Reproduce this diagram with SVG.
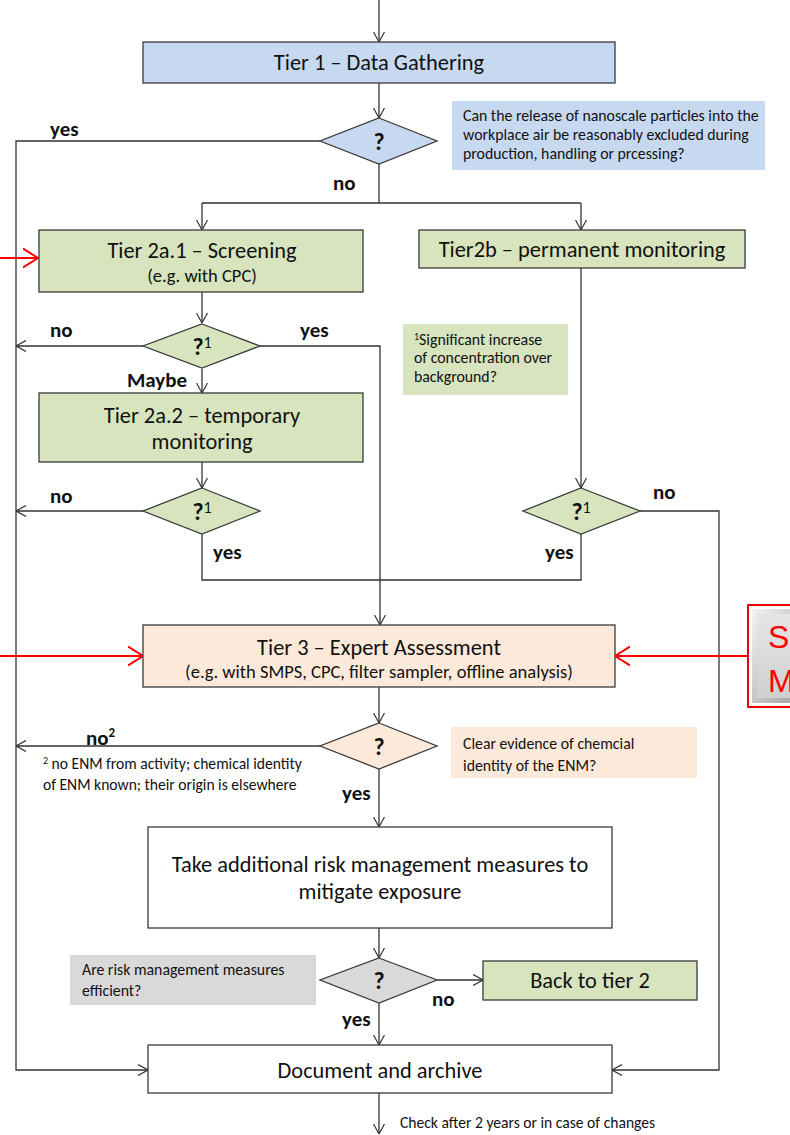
<svg xmlns="http://www.w3.org/2000/svg" width="790" height="1135" viewBox="0 0 790 1135">
<style>
text{font-family:Carlito,Lato,"Open Sans",sans-serif;fill:#111}
.t{font-size:22.4px;text-anchor:middle}
.s{font-size:18.5px;text-anchor:middle}
.n{font-size:15.8px}
.f{font-size:15.6px}
.b{font-size:21px;font-weight:bold}
.q{font-size:24px;font-weight:bold;text-anchor:middle}
.sup{font-size:16px;font-weight:normal}
.box{stroke:#3a3a3a;stroke-width:1.3}
.c{fill:none;stroke:#333;stroke-width:1.3}
.r{fill:none;stroke:#f00;stroke-width:2}
.blue{fill:#c6d9f1}.green{fill:#d7e4bd}.peach{fill:#fde9d9}.gray{fill:#d9d9d9}.white{fill:#fff}
</style>
<defs>
<marker id="a" viewBox="0 0 10 12" refX="10" refY="6" markerWidth="10" markerHeight="12" orient="auto" markerUnits="userSpaceOnUse"><path d="M0,0.5 L10,6 L0,11.5" fill="none" stroke="#333" stroke-width="1.2"/></marker>
<marker id="ar" viewBox="0 0 16 20" refX="15" refY="10" markerWidth="16" markerHeight="20" orient="auto" markerUnits="userSpaceOnUse"><path d="M0,0.5 L15,10 L0,19.5" fill="none" stroke="#f00" stroke-width="2"/></marker>
<linearGradient id="bev" x1="0" y1="0" x2="1" y2="1"><stop offset="0" stop-color="#f4f4f4"/><stop offset="1" stop-color="#9a9a9a"/></linearGradient>
<linearGradient id="face" x1="0" y1="0" x2="0" y2="1"><stop offset="0" stop-color="#e6e6e6"/><stop offset="1" stop-color="#cfcfcf"/></linearGradient>
</defs>

<g id="connectors">
<path class="c" d="M379,0 V42" marker-end="url(#a)"/>
<path class="c" d="M379,83 V118" marker-end="url(#a)"/>
<path class="c" d="M320,141 H16 V1070 H148" marker-end="url(#a)"/>
<path class="c" d="M379,164 V203 M202,203 H581"/>
<path class="c" d="M202,203 V230" marker-end="url(#a)"/>
<path class="c" d="M581,203 V230" marker-end="url(#a)"/>
<path class="c" d="M202,292 V323" marker-end="url(#a)"/>
<path class="c" d="M143,346 H16" marker-end="url(#a)"/>
<path class="c" d="M260,346 H380 V625" marker-end="url(#a)"/>
<path class="c" d="M202,369 V393" marker-end="url(#a)"/>
<path class="c" d="M202,462 V488" marker-end="url(#a)"/>
<path class="c" d="M143,511 H16" marker-end="url(#a)"/>
<path class="c" d="M202,534 V580 H581 V534"/>
<path class="c" d="M581,268 V488" marker-end="url(#a)"/>
<path class="c" d="M640,511 H719 V1070 H612" marker-end="url(#a)"/>
<path class="c" d="M379,687 V723" marker-end="url(#a)"/>
<path class="c" d="M320,746 H16" marker-end="url(#a)"/>
<path class="c" d="M379,769 V827" marker-end="url(#a)"/>
<path class="c" d="M379,928 V958" marker-end="url(#a)"/>
<path class="c" d="M437,980 H483" marker-end="url(#a)"/>
<path class="c" d="M379,1003 V1045" marker-end="url(#a)"/>
<path class="c" d="M379,1093 V1134" marker-end="url(#a)"/>
<path class="r" d="M0,258 H38" marker-end="url(#ar)"/>
<path class="r" d="M0,656 H143" marker-end="url(#ar)"/>
<path class="r" d="M750,656 H615" marker-end="url(#ar)"/>
</g>

<g id="labels">
<text class="b" x="50" y="136">yes</text>
<text class="b" x="333" y="190">no</text>
<text class="b" x="50" y="337">no</text>
<text class="b" x="300" y="337">yes</text>
<text class="b" x="127" y="387">Maybe</text>
<text class="b" x="50" y="503">no</text>
<text class="b" x="213" y="559">yes</text>
<text class="b" x="653" y="499">no</text>
<text class="b" x="545" y="559">yes</text>
<text class="b" x="86" y="745">no<tspan font-size="13" dy="-8">2</tspan></text>
<text class="b" x="342" y="800">yes</text>
<text class="b" x="432" y="1006">no</text>
<text class="b" x="342" y="1026">yes</text>
<text class="f" x="400" y="1128">Check after 2 years or in case of changes</text>
</g>

<g id="tier1">
<rect class="box blue" x="143" y="42" width="472" height="41"/>
<text class="t" x="379" y="70">Tier 1 – Data Gathering</text>
</g>

<g id="q1">
<polygon class="box blue" points="379,118 437,141 379,164 320,141"/>
<text class="q" x="379" y="150">?</text>
</g>

<g id="note1">
<rect class="blue" x="452" y="101" width="313" height="69"/>
<text class="n" x="463" y="121">Can the  release of nanoscale particles into the</text>
<text class="n" x="463" y="140">workplace air be reasonably  excluded during</text>
<text class="n" x="463" y="159">production, handling or prcessing?</text>
</g>

<g id="tier2a1">
<rect class="box green" x="39" y="230" width="324" height="62"/>
<text class="t" x="202" y="258">Tier 2a.1 – Screening</text>
<text class="s" x="202" y="282">(e.g. with CPC)</text>
</g>

<g id="tier2b">
<rect class="box green" x="419" y="230" width="326" height="38"/>
<text class="t" x="582" y="257">Tier2b – permanent monitoring</text>
</g>

<g id="q2a1">
<polygon class="box green" points="202,324 260,346 202,368 143,346"/>
<text class="q" x="202" y="355">?<tspan class="sup" dy="-7">1</tspan></text>
</g>

<g id="note2">
<rect class="green" x="403" y="324" width="165" height="71"/>
<text class="n" x="414" y="345"><tspan font-size="10" dy="-5">1</tspan><tspan dy="5">Significant increase</tspan></text>
<text class="n" x="414" y="363">of concentration over</text>
<text class="n" x="414" y="382">background?</text>
</g>

<g id="tier2a2">
<rect class="box green" x="39" y="393" width="324" height="69"/>
<text class="t" x="202" y="423">Tier 2a.2 – temporary</text>
<text class="t" x="202" y="449">monitoring</text>
</g>

<g id="q2a2">
<polygon class="box green" points="202,488 260,511 202,534 143,511"/>
<text class="q" x="202" y="520">?<tspan class="sup" dy="-7">1</tspan></text>
</g>

<g id="q2b">
<polygon class="box green" points="581,488 640,511 581,534 523,511"/>
<text class="q" x="581" y="520">?<tspan class="sup" dy="-7">1</tspan></text>
</g>

<g id="tier3">
<rect class="box peach" x="143" y="625" width="472" height="62"/>
<text class="t" x="379" y="655">Tier 3 – Expert Assessment</text>
<text class="s" x="379" y="678">(e.g. with SMPS, CPC, filter sampler, offline analysis)</text>
</g>

<g id="smbox">
<rect x="748" y="605" width="60" height="102" fill="#fff" stroke="#e00" stroke-width="2"/>
<rect x="752" y="609" width="56" height="94" fill="url(#bev)"/>
<rect x="757" y="614" width="51" height="84" fill="url(#face)"/>
<text x="768" y="648" font-size="32" style="fill:#f00;font-family:'Liberation Sans',Arial,sans-serif">S</text>
<text x="768" y="692" font-size="32" style="fill:#f00;font-family:'Liberation Sans',Arial,sans-serif">M</text>
</g>

<g id="q3">
<polygon class="box peach" points="379,723 437,746 379,769 320,746"/>
<text class="q" x="379" y="755">?</text>
</g>

<g id="footnote2">
<text class="f" x="43" y="769"><tspan font-size="10" dy="-5">2</tspan><tspan dy="5"> no ENM from activity;  chemical identity</tspan></text>
<text class="f" x="43" y="790">of ENM  known;  their origin is elsewhere</text>
</g>

<g id="note3">
<rect class="peach" x="451" y="727" width="246" height="51"/>
<text class="n" x="463" y="749">Clear evidence of chemcial</text>
<text class="n" x="463" y="771">identity of the ENM?</text>
</g>

<g id="action">
<rect class="box white" x="148" y="827" width="464" height="101"/>
<text class="t" x="380" y="872">Take additional risk management measures to</text>
<text class="t" x="380" y="899">mitigate exposure</text>
</g>

<g id="q4">
<polygon class="box gray" points="379,958 437,980 379,1003 320,980"/>
<text class="q" x="379" y="989">?</text>
</g>

<g id="note4">
<rect class="gray" x="70" y="955" width="246" height="50"/>
<text class="n" x="82" y="975">Are risk management  measures</text>
<text class="n" x="82" y="996">efficient?</text>
</g>

<g id="back">
<rect class="box green" x="483" y="961" width="214" height="39"/>
<text class="t" x="590" y="988">Back to tier 2</text>
</g>

<g id="doc">
<rect class="box white" x="148" y="1045" width="464" height="48"/>
<text class="t" x="380" y="1078">Document and archive</text>
</g>
</svg>
